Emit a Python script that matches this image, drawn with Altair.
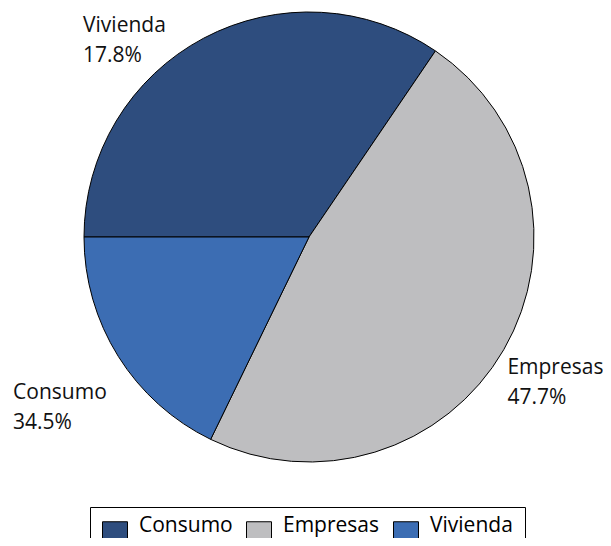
import math
import altair as alt
import pandas as pd

# Slices (legend order / drawing order, clockwise from 9 o'clock)
categories = ["Consumo", "Empresas", "Vivienda"]
values = [34.5, 47.7, 17.8]
colors = ["#2E4D7E", "#BEBEC0", "#3C6DB3"]

# Text printed next to each slice in the reference (as it appears there)
label_names = ["Vivienda", "Empresas", "Consumo"]
label_values = [17.8, 47.7, 34.5]

labels = [f"{n}\n{v:.1f}%" for n, v in zip(label_names, label_values)]

df = pd.DataFrame({
    "category": categories,
    "value": values,
    "idx": list(range(len(categories))),
    "label": labels,
})

total = float(sum(values))
start = 1.5 * math.pi
theta_scale = alt.Scale(domain=[0, total], range=[start, start + 2 * math.pi])

base = alt.Chart(df)

pie = base.mark_arc(outerRadius=225, stroke="black", strokeWidth=1).encode(
    theta=alt.Theta("value:Q", stack=True, scale=theta_scale),
    color=alt.Color(
        "category:N",
        scale=alt.Scale(domain=categories, range=colors),
        legend=alt.Legend(
            title=None,
            orient="none",
            legendX=75,
            legendY=499,
            direction="horizontal",
            symbolType="M-1,-0.84H1V0.84H-1Z",
            symbolSize=625,
            symbolStrokeColor="black",
            symbolStrokeWidth=1,
            symbolOpacity=1,
            labelFont="Open Sans",
            labelFontSize=21,
            labelColor="black",
            labelBaseline="alphabetic",
            labelOffset=11,
            columnPadding=11,
            padding=12,
            strokeColor="black",
            cornerRadius=0,
        ),
    ),
    order=alt.Order("idx:Q"),
)

offsets = {
    "Consumo": (-109, 16),
    "Empresas": (-18, 12),
    "Vivienda": (-84, 29),
}

layers = [pie]
for cat in categories:
    dx, dy = offsets[cat]
    t = (
        base.transform_window(
            cum="sum(value)", sort=[alt.SortField("idx")], frame=[None, 0]
        )
        .transform_calculate(mid="datum.cum - datum.value / 2")
        .transform_filter(alt.datum.category == cat)
        .mark_text(
            radius=250,
            align="left",
            baseline="alphabetic",
            dx=dx,
            dy=dy,
            lineBreak="\n",
            lineHeight=30,
            font="Open Sans",
            fontSize=21,
            color="#111111",
        )
        .encode(
            theta=alt.Theta("mid:Q", stack=None, scale=theta_scale),
            text="label:N",
        )
    )
    layers.append(t)

chart = (
    alt.layer(*layers)
    .properties(
        width=588,
        height=458,
        padding={"left": 7, "top": 0, "right": 0, "bottom": 72},
        autosize=alt.AutoSizeParams(type="none"),
        background="white",
    )
    .configure_view(stroke=None)
)

chart.save("out.html", embed_options={"renderer": "svg", "actions": False})
